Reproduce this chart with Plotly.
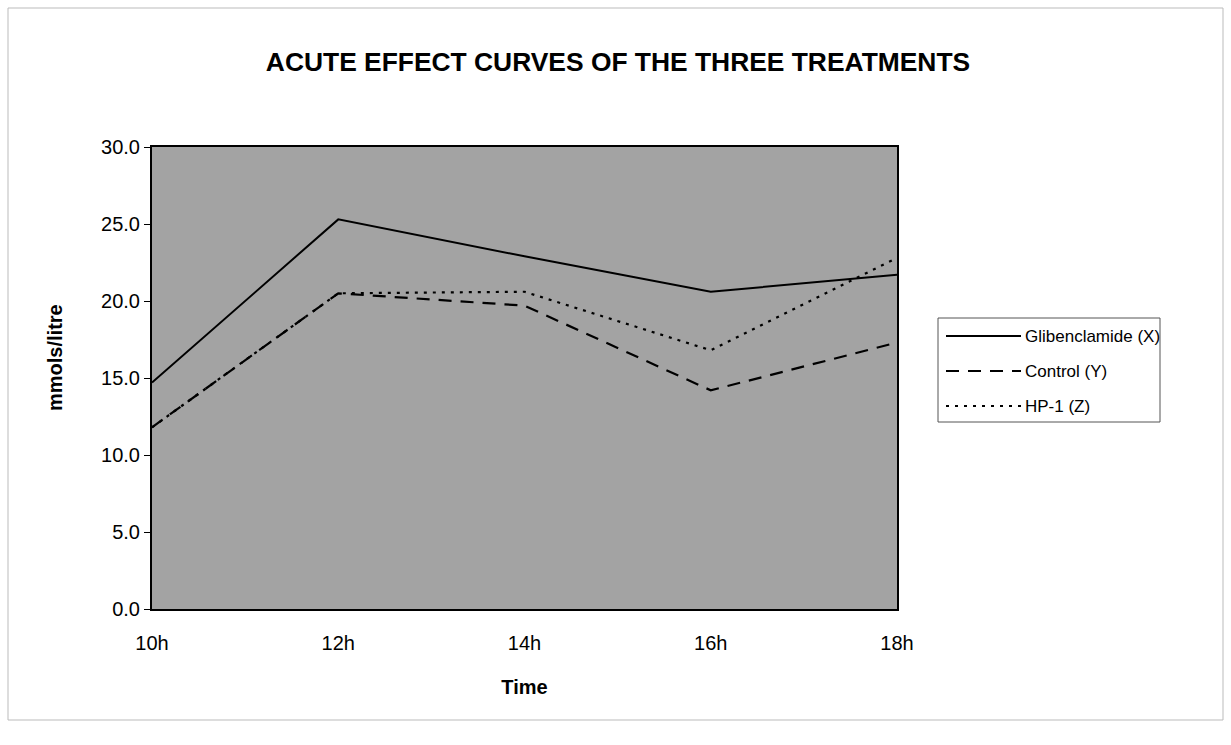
import plotly.graph_objects as go

times = ["10h", "12h", "14h", "16h", "18h"]
x_pos = [10, 12, 14, 16, 18]
glibenclamide = [14.7, 25.3, 22.9, 20.6, 21.7]
control = [11.8, 20.5, 19.7, 14.2, 17.3]
hp1 = [11.8, 20.5, 20.6, 16.8, 22.8]
y_ticks = [0, 5, 10, 15, 20, 25, 30]
series_names = ["Glibenclamide (X)", "Control (Y)", "HP-1 (Z)"]

FONT = "Liberation Sans, Arial, sans-serif"
L, R, T, B = 152, 897, 147, 609
PW, PH = R - L, B - T


def px(xp):
    return (xp - L) / PW


def py(yp):
    return (B - yp) / PH


styles = [
    dict(color="black", width=2, dash="solid"),
    dict(color="black", width=2.2, dash="13px,9px"),
    dict(color="black", width=2.2, dash="3px,6px"),
]
series = [glibenclamide, control, hp1]

fig = go.Figure()
for name, vals, st in zip(series_names, series, styles):
    fig.add_trace(go.Scatter(x=x_pos, y=vals, mode="lines", name=name, line=st, showlegend=False))

fig.update_layout(
    width=1231, height=745,
    margin=dict(l=L, r=1231 - R, t=T, b=745 - B),
    paper_bgcolor="white",
    plot_bgcolor="#a3a3a3",
    font=dict(family=FONT, size=20, color="black"),
    title=dict(text="<b>ACUTE EFFECT CURVES OF THE THREE TREATMENTS</b>",
               x=618/1231, xanchor="center", y=1-62/745, yanchor="middle",
               font=dict(family=FONT, size=26.4, color="black")),
    xaxis=dict(range=[10, 18], tickvals=x_pos, ticktext=times, showgrid=False, zeroline=False,
               showline=True, linecolor="black", linewidth=2, mirror=True,
               ticks="", ticklabelstandoff=15,
               tickfont=dict(family=FONT, size=20),
               title=dict(text="<b>Time</b>", font=dict(family=FONT, size=20), standoff=27)),
    yaxis=dict(range=[0, 30], tickvals=y_ticks, tickformat=".1f", showgrid=False, zeroline=False,
               showline=True, linecolor="black", linewidth=2, mirror=True,
               ticks="outside", ticklen=6, tickcolor="black",
               tickfont=dict(family=FONT, size=20)),
    showlegend=False,
)

# y-axis title placed as in the reference
fig.add_annotation(x=px(55), y=py(358), xref="paper", yref="paper", text="<b>mmols/litre</b>",
                   textangle=-90, showarrow=False, xanchor="center", yanchor="middle",
                   font=dict(family=FONT, size=20, color="black"))

# outer frame
fig.add_shape(type="rect", xref="paper", yref="paper",
              x0=px(8), x1=px(1223), y0=py(720), y1=py(8),
              line=dict(color="#bbbbbb", width=1), fillcolor="rgba(0,0,0,0)", layer="below")

# legend box
lx0, lx1, ly0, ly1 = 938, 1160, 318, 422
fig.add_shape(type="rect", xref="paper", yref="paper",
              x0=px(lx0), x1=px(lx1), y0=py(ly1), y1=py(ly0),
              line=dict(color="#555555", width=1), fillcolor="white")
row_y = [336, 371, 406]
for name, st, ry in zip(series_names, styles, row_y):
    fig.add_shape(type="line", xref="paper", yref="paper",
                  x0=px(946), x1=px(1021), y0=py(ry), y1=py(ry),
                  line=st)
    fig.add_annotation(x=px(1023), y=py(ry), xref="paper", yref="paper",
                       text=name, showarrow=False, xanchor="left", yanchor="middle",
                       font=dict(family=FONT, size=17, color="black"))

fig.write_html("out.html")
